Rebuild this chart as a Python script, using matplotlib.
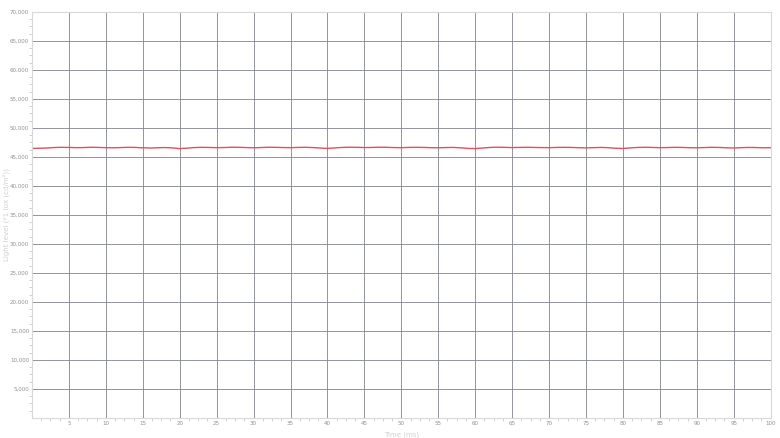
import matplotlib.pyplot as plt
from matplotlib.ticker import MultipleLocator, FuncFormatter

# time axis (ms) and light level readings
time_ms = list(range(0, 101))
light = [46450, 46480, 46520, 46600, 46640, 46620, 46580, 46600, 46650, 46620,
         46580, 46560, 46600, 46640, 46620, 46560, 46520, 46560, 46600, 46540,
         46420, 46500, 46600, 46640, 46620, 46580, 46600, 46660, 46640, 46600,
         46560, 46600, 46650, 46640, 46600, 46580, 46620, 46640, 46600, 46520,
         46450, 46540, 46620, 46660, 46640, 46600, 46620, 46660, 46640, 46600,
         46580, 46620, 46640, 46620, 46580, 46560, 46600, 46620, 46560, 46460,
         46420, 46520, 46620, 46660, 46640, 46600, 46620, 46650, 46620, 46600,
         46580, 46620, 46640, 46620, 46580, 46540, 46580, 46620, 46580, 46480,
         46440, 46540, 46620, 46650, 46620, 46580, 46600, 46640, 46620, 46580,
         46560, 46600, 46640, 46620, 46560, 46520, 46580, 46620, 46600, 46560,
         46580]

fig = plt.figure(figsize=(7.8, 4.38), dpi=100)
ax = fig.add_axes([0.041, 0.046, 0.947, 0.927])

ax.plot(time_ms, light, color='#e05060', linewidth=1)

ax.set_xlim(0, 100)
ax.set_ylim(0, 70000)
ax.xaxis.set_major_locator(MultipleLocator(5))
ax.xaxis.set_minor_locator(MultipleLocator(1.25))
ax.yaxis.set_major_locator(MultipleLocator(5000))
ax.yaxis.set_minor_locator(MultipleLocator(1250))
ax.yaxis.set_major_formatter(FuncFormatter(lambda v, p: '' if v == 0 else f'{int(v):,}'))
ax.xaxis.set_major_formatter(FuncFormatter(lambda v, p: '' if v == 0 else f'{int(v)}'))

ax.grid(True, which='major', color='#80848c', linewidth=0.6)
ax.tick_params(which='both', labelsize=4, colors='#c8c8c8', labelcolor='#909090',
               length=2, width=0.6, pad=2)
ax.tick_params(which='major', length=0)
for s in ax.spines.values():
    s.set_color('#d8d8d8')

ax.set_xlabel('Time (ms)', fontsize=5, color='#d0d0d0', labelpad=4)
ax.set_ylabel('Light level (*1 lux (cd/m²))', fontsize=5, color='#d0d0d0')
ax.yaxis.set_label_coords(-0.03, 0.5)

plt.savefig('out.png', dpi=100)
